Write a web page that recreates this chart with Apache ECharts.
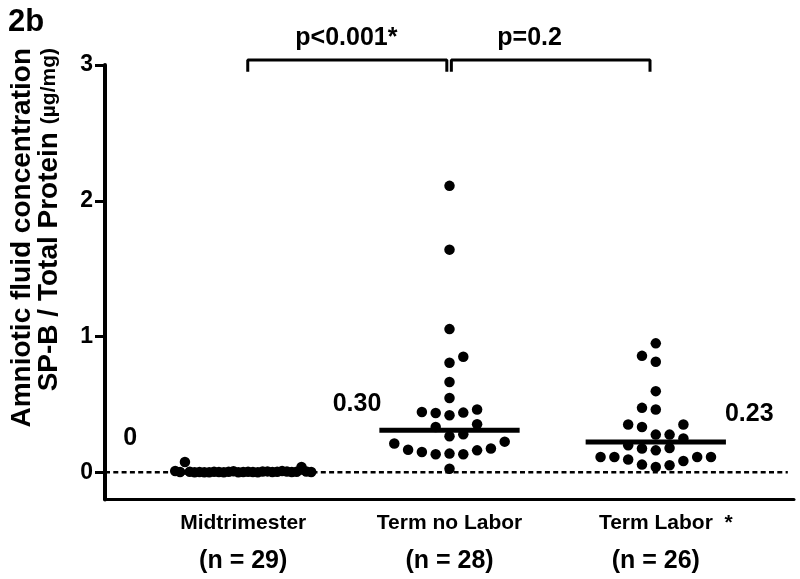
<!DOCTYPE html>
<html>
<head>
<meta charset="utf-8">
<script src="https://cdn.jsdelivr.net/npm/echarts@6/dist/echarts.min.js"></script>
<style>html,body{margin:0;padding:0;background:#fff}#c{width:800px;height:579px}</style>
</head>
<body>
<div id="c"></div>
<script>
// ---------------- data ----------------
const categories = ['Midtrimester', 'Term no Labor', 'Term Labor'];
const groupN = [29, 28, 26];
const midtrimester = [0.003, 0.0, 0.005, 0.002, 0.008, 0.004, 0.001, 0.006, 0.0, 0.003, 0.007, 0.002,
  0.005, 0.0, 0.004, 0.009, 0.001, 0.003, 0.006, 0.002, 0.0, 0.005, 0.004,
  0.04, 0.076, 0.003, 0.006, 0.002, 0.01];
const termNoLabor = [0.027, 0.138, 0.133, 0.133, 0.162, 0.15, 0.167, 0.175, 0.226, 0.212, 0.266, 0.42,
  0.334, 0.28, 0.44, 0.437, 0.445, 0.354, 0.463, 0.548, 0.666, 0.807, 0.851, 1.055, 1.64, 2.11];
const termLabor = [0.039, 0.162, 0.278, 0.463, 0.598, 0.814, 0.95, 0.858, 0.052, 0.057, 0.475, 0.083,
  0.094, 0.113, 0.113, 0.113, 0.113, 0.175, 0.179, 0.249, 0.199, 0.334, 0.278, 0.352, 0.352];
const medians = [0, 0.31, 0.224];
const medianLabels = ['0', '0.30', '0.23'];
const yTicks = [0, 1, 2, 3];
const comparisons = [[0, 1, 'p<0.001*'], [1, 2, 'p=0.2']];

// ---------------- layout / style ----------------
const FONT = '"Liberation Sans", Arial, Helvetica, sans-serif';
const XMIN = 0.33, XMAX = 3.67, YMIN = -0.2, YMAX = 3;
const GRID = { left: 105, right: 6, top: 65, bottom: 79.5 };
const PX_PER_X = (800 - GRID.left - GRID.right) / (XMAX - XMIN);
const PX_PER_Y = (579 - GRID.top - GRID.bottom) / (YMAX - YMIN);
const SLOT_PX = 13.8;          // horizontal step of the swarm
const COLLIDE_PX = 12.9;       // vertical distance under which two dots share a row
const MAX_HALF_PX = 68;        // swarm half width limit
const DOT = 10.5;
const MEDIAN_HALF = 0.34;
const ZERO_LINE_END = 3.64;
const BRACKET_TOP = 3.036, BRACKET_FOOT = 2.95, PLABEL_Y = 3.2;
const bracketInset = [[0.022, 0.013], [0.009, 0.028]];
const pLabelShift = [[0, 0], [-23, 0]];
const medianLabelStyle = [
  { align: 'right', offset: [-36, -34] },
  { align: 'right', offset: [2, -26] },
  { align: 'left', offset: [-1, -28] }
];
const centres = categories.map((_, i) => i + 1);

// beeswarm: each dot takes the free slot nearest the centre (ties alternate sides)
function swarm(values, centre) {
  const tol = COLLIDE_PX / PX_PER_Y;
  const placed = [];
  let tieLeft = true;
  values.forEach(v => {
    const free = s => !placed.some(p => p.slot === s && Math.abs(p.v - v) < tol);
    let slot = 0;
    if (!free(0)) {
      for (let k = 1; ; k++) {
        const l = free(-k), r = free(k);
        if (l && r) { slot = tieLeft ? -k : k; tieLeft = !tieLeft; break; }
        if (l) { slot = -k; break; }
        if (r) { slot = k; break; }
      }
    }
    placed.push({ slot, v });
  });
  const maxSlot = Math.max(1, ...placed.map(p => Math.abs(p.slot)));
  const step = Math.min(SLOT_PX, MAX_HALF_PX / maxSlot);
  return placed.map(p => [centre + p.slot * step / PX_PER_X, p.v]);
}

const groups = [midtrimester, termNoLabor, termLabor];
const series = [];
const solid = { color: '#000', opacity: 1 };

series.push({
  type: 'line', data: [[XMIN, 0], [ZERO_LINE_END, 0]], symbol: 'none', silent: true, z: 1,
  lineStyle: { color: '#000', width: 2.5, type: [5, 3.3], opacity: 1 }
});

groups.forEach((vals, i) => {
  series.push({
    type: 'line', symbol: 'none', silent: true, z: 2,
    data: [[centres[i] - MEDIAN_HALF, medians[i]], [centres[i] + MEDIAN_HALF, medians[i]]],
    lineStyle: { color: '#000', width: 5, opacity: 1 }
  });
  series.push({
    type: 'scatter', symbol: 'circle', symbolSize: DOT, z: 3,
    itemStyle: solid, data: swarm(vals, centres[i])
  });
});

comparisons.forEach(([a, b, txt], i) => {
  const x1 = centres[a] + bracketInset[i][0];
  const x2 = centres[b] - bracketInset[i][1];
  series.push({
    type: 'line', symbol: 'none', clip: false, silent: true, z: 4,
    data: [[x1, BRACKET_FOOT], [x1, BRACKET_TOP], [x2, BRACKET_TOP], [x2, BRACKET_FOOT]],
    lineStyle: { color: '#000', width: 3, opacity: 1 }
  });
  series.push({
    type: 'scatter', symbolSize: 0, clip: false, silent: true, z: 5, itemStyle: solid,
    data: [[(centres[a] + centres[b]) / 2, PLABEL_Y]],
    label: {
      show: true, position: 'inside', formatter: txt, offset: pLabelShift[i],
      color: '#000', opacity: 1, fontFamily: FONT, fontWeight: 'bold', fontSize: 25,
      align: 'center', verticalAlign: 'middle'
    }
  });
});

medians.forEach((m, i) => {
  const st = medianLabelStyle[i];
  const x = st.align === 'right' ? centres[i] - MEDIAN_HALF : centres[i] + MEDIAN_HALF;
  series.push({
    type: 'scatter', symbolSize: 0, clip: false, silent: true, z: 5, itemStyle: solid,
    data: [[x, m]],
    label: {
      show: true, position: 'inside', formatter: medianLabels[i], offset: st.offset,
      align: st.align, verticalAlign: 'middle', opacity: 1,
      color: '#000', fontFamily: FONT, fontWeight: 'bold', fontSize: 25
    }
  });
});

const chart = echarts.init(document.getElementById('c'), null, { renderer: 'canvas' });
chart.setOption({
  animation: false,
  backgroundColor: '#fff',
  grid: GRID,
  xAxis: {
    type: 'value', min: XMIN, max: XMAX,
    axisLine: { onZero: false, lineStyle: { color: '#000', width: 3 } },
    axisTick: { show: false }, splitLine: { show: false },
    axisLabel: {
      customValues: centres, margin: 7, color: '#000',
      formatter: v => {
        const i = Math.round(v) - 1;
        const name = i === 2 ? '{pad| }{a|' + categories[i] + '}{a|  *}' : '{a|' + categories[i] + '}';
        return name + '\n{b|(n = ' + groupN[i] + ')}';
      },
      rich: {
        a: { fontFamily: FONT, fontWeight: 'bold', fontSize: 21, lineHeight: 34, color: '#000' },
        pad: { fontFamily: FONT, fontSize: 21, width: 20, lineHeight: 34 },
        b: { fontFamily: FONT, fontWeight: 'bold', fontSize: 25, lineHeight: 42, color: '#000' }
      }
    }
  },
  yAxis: {
    type: 'value', min: YMIN, max: YMAX,
    axisLine: { show: true, onZero: false, lineStyle: { color: '#000', width: 4 } },
    axisTick: { show: true, customValues: yTicks, length: 10, lineStyle: { color: '#000', width: 3 } },
    axisLabel: { customValues: yTicks, margin: 12, color: '#000', fontFamily: FONT, fontWeight: 'bold', fontSize: 23 },
    splitLine: { show: false }
  },
  graphic: [
    {
      type: 'text', left: 8, top: 7,
      style: { text: '2b', fontFamily: FONT, fontWeight: 'bold', fontSize: 31, fill: '#000' }
    },
    {
      type: 'text', x: 36, y: 48, rotation: Math.PI / 2,
      style: {
        text: '{a|Amniotic fluid concentration}\n{a|SP-B / Total Protein }{u|(µg/mg)}',
        align: 'right', verticalAlign: 'middle', fill: '#000',
        rich: {
          a: { fontFamily: FONT, fontWeight: 'bold', fontSize: 28, lineHeight: 27, fill: '#000' },
          u: { fontFamily: FONT, fontWeight: 'bold', fontSize: 21, lineHeight: 27, fill: '#000' }
        }
      }
    }
  ],
  series
});
</script>
</body>
</html>
